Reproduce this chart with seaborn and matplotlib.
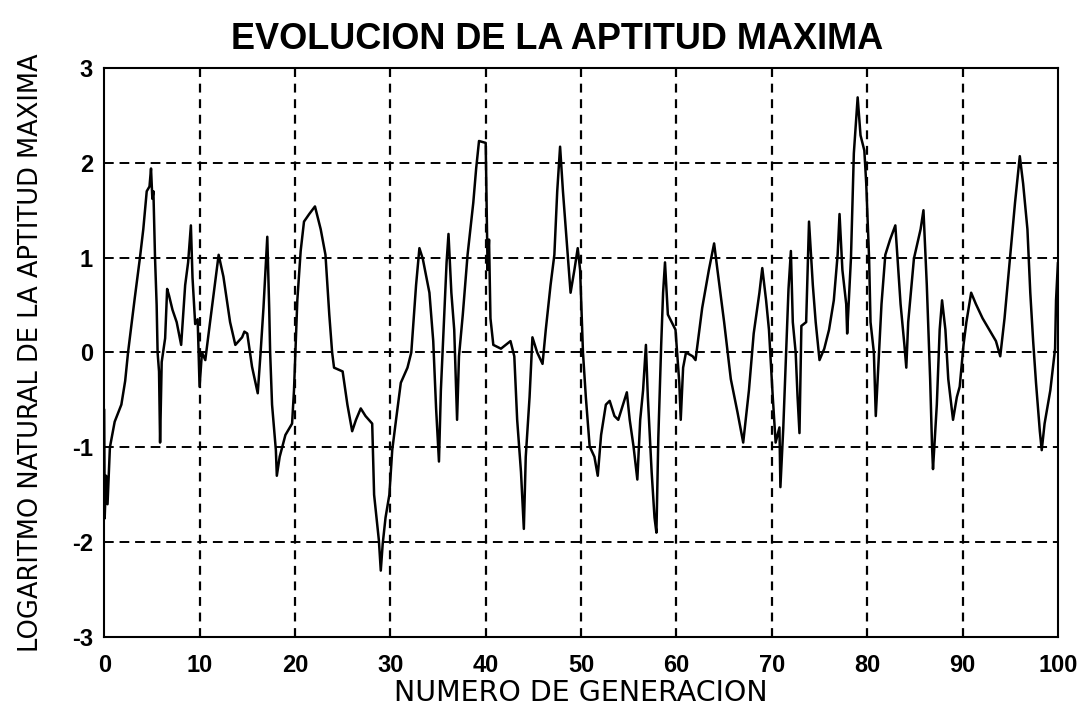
import pandas as pd
import matplotlib
matplotlib.use("Agg")
import matplotlib.pyplot as plt
import seaborn as sns

# valores (generacion, log natural de la aptitud maxima)
generacion = [
    0.0, 0.05, 0.2, 0.35, 0.6, 1.1, 1.8, 2.2, 2.5, 3.2, 3.75, 4.1, 4.46, 4.75, 4.91,
    5.05, 5.16, 5.33, 5.5, 5.6, 5.75, 5.86, 6.03, 6.39, 6.6, 6.8, 7.16, 7.6, 8.07, 8.49,
    8.8, 9.09, 9.26, 9.54, 9.8, 10.0, 10.25, 10.6, 11.1, 12.0, 12.5, 13.2, 13.75, 14.46,
    14.7, 15.0, 15.5, 16.1, 16.4, 16.7, 17.1, 17.3, 17.4, 17.6, 18.0, 18.1, 18.4, 19.0,
    19.7, 19.9, 20.25, 20.6, 20.95, 21.5, 22.1, 22.7, 23.2, 23.6, 23.9, 24.1, 25.0, 25.5,
    26.0, 26.4, 26.9, 27.4, 28.1, 28.3, 28.8, 29.0, 29.2, 29.5, 29.9, 30.2, 30.6, 31.1,
    31.8, 32.2, 32.7, 33.05, 33.4, 34.1, 34.5, 34.8, 35.1, 35.3, 35.7, 35.9, 36.1, 36.4,
    36.7, 37.0, 37.2, 37.6, 38.1, 38.7, 39.0, 39.3, 40.0, 40.2, 40.35, 40.5, 40.8, 41.6,
    42.1, 42.6, 43.0, 43.3, 43.7, 44.0, 44.2, 44.6, 44.9, 45.4, 45.96, 46.3, 46.8, 47.2,
    47.5, 47.8, 48.1, 48.6, 48.9, 49.3, 49.65, 49.9, 50.2, 50.5, 50.9, 51.4, 51.75, 52.1,
    52.6, 53.0, 53.5, 53.9, 54.4, 54.8, 55.1, 55.5, 55.9, 56.2, 56.5, 56.8, 57.0, 57.4,
    57.7, 57.9, 58.1, 58.4, 58.6, 58.8, 59.1, 59.5, 59.9, 60.3, 60.45, 60.7, 61.0, 61.7,
    62.0, 62.7, 63.4, 63.95, 64.3, 65.0, 65.7, 66.4, 67.0, 67.6, 68.1, 68.7, 69.0, 69.4,
    69.7, 70.1, 70.4, 70.8, 70.9, 71.2, 71.5, 71.75, 72.0, 72.2, 72.5, 72.7, 72.9, 73.1,
    73.6, 73.9, 74.3, 74.6, 75.0, 75.5, 76.0, 76.5, 76.9, 77.1, 77.4, 77.8, 77.9, 78.3,
    78.6, 79.0, 79.3, 79.7, 79.9, 80.2, 80.35, 80.7, 80.9, 81.2, 81.5, 81.9, 82.4, 82.95,
    83.5, 83.9, 84.1, 84.3, 84.9, 85.6, 85.9, 86.25, 86.6, 86.8, 86.9, 87.3, 87.6, 87.85,
    88.2, 88.5, 89.0, 89.4, 89.7, 90.1, 90.4, 90.9, 91.4, 92.1, 92.8, 93.5, 93.95, 94.4,
    95.0, 95.5, 95.7, 96.0, 96.35, 96.8, 97.1, 97.4, 97.7, 98.1, 98.3, 98.6, 99.2, 99.7,
    99.8, 100.0,
]
log_aptitud = [
    -0.6, -1.75, -1.3, -1.6, -1.0, -0.73, -0.55, -0.3, 0.0, 0.57, 1.0, 1.3, 1.7, 1.75, 1.94,
    1.62, 1.7, 1.0, 0.5, 0.0, -0.2, -0.95, -0.1, 0.15, 0.67, 0.6, 0.45, 0.32, 0.08, 0.71,
    0.95, 1.34, 0.79, 0.3, 0.35, -0.36, 0.0, -0.08, 0.32, 1.03, 0.8, 0.32, 0.08, 0.16,
    0.22, 0.2, -0.15, -0.43, 0.0, 0.47, 1.22, 0.47, 0.0, -0.55, -1.03, -1.3, -1.1, -0.87,
    -0.75, -0.4, 0.55, 1.07, 1.38, 1.46, 1.54, 1.3, 1.03, 0.4, 0.0, -0.16, -0.2, -0.55,
    -0.83, -0.71, -0.59, -0.67, -0.75, -1.5, -1.98, -2.3, -2.02, -1.74, -1.5, -1.03, -0.71, -0.32,
    -0.16, 0.0, 0.71, 1.1, 0.99, 0.63, 0.12, -0.59, -1.15, -0.4, 0.51, 0.95, 1.25, 0.63,
    0.24, -0.71, -0.04, 0.4, 1.03, 1.58, 1.94, 2.23, 2.21, 0.87, 1.19, 0.36, 0.08, 0.04,
    0.08, 0.12, -0.04, -0.71, -1.26, -1.86, -1.1, -0.47, 0.16, 0.0, -0.12, 0.24, 0.71, 1.03,
    1.7, 2.17, 1.7, 1.03, 0.63, 0.87, 1.1, 0.87, 0.0, -0.47, -0.99, -1.1, -1.3, -0.87,
    -0.55, -0.51, -0.67, -0.71, -0.55, -0.42, -0.71, -0.99, -1.34, -0.71, -0.4, 0.08, -0.47, -1.26,
    -1.74, -1.9, -0.9, 0.08, 0.63, 0.95, 0.4, 0.32, 0.24, -0.32, -0.71, -0.16, 0.0, -0.04,
    -0.08, 0.47, 0.87, 1.15, 0.87, 0.32, -0.28, -0.63, -0.95, -0.4, 0.2, 0.63, 0.89, 0.55,
    0.24, -0.47, -0.95, -0.79, -1.42, -0.8, 0.0, 0.67, 1.07, 0.32, 0.0, -0.47, -0.85, 0.28,
    0.32, 1.38, 0.71, 0.32, -0.08, 0.04, 0.24, 0.55, 1.03, 1.46, 0.87, 0.51, 0.2, 1.0,
    2.1, 2.69, 2.29, 2.13, 1.78, 0.99, 0.32, 0.0, -0.67, -0.08, 0.51, 1.03, 1.19, 1.34,
    0.51, 0.08, -0.16, 0.32, 0.99, 1.3, 1.5, 0.71, -0.28, -0.99, -1.23, -0.55, 0.24, 0.55,
    0.24, -0.28, -0.71, -0.47, -0.36, 0.08, 0.32, 0.63, 0.51, 0.36, 0.24, 0.12, -0.04, 0.36,
    1.03, 1.58, 1.78, 2.07, 1.78, 1.3, 0.63, 0.12, -0.32, -0.83, -1.03, -0.75, -0.4, 0.04,
    0.55, 0.95,
]
x_ticks = [0, 10, 20, 30, 40, 50, 60, 70, 80, 90, 100]
y_ticks = [-3, -2, -1, 0, 1, 2, 3]

datos = pd.DataFrame({"gen": generacion, "apt": log_aptitud})

sns.set_style("white")
plt.rcParams['font.family'] = ['Liberation Sans', 'DejaVu Sans']
plt.rcParams['text.color'] = 'black'
plt.rcParams['axes.labelcolor'] = 'black'
plt.rcParams['xtick.color'] = 'black'
plt.rcParams['ytick.color'] = 'black'

fig = plt.figure(figsize=(10.91, 7.08), dpi=100)
ax = fig.add_axes([0.0955, 0.1003, 0.8742, 0.8037])

sns.lineplot(data=datos, x="gen", y="apt", color="black", linewidth=1.8,
             sort=False, estimator=None, ax=ax)

ax.set_xlim(0, 100)
ax.set_ylim(-3, 3)
ax.set_xticks(x_ticks)
ax.set_yticks(y_ticks)
ax.set_xticklabels([str(t) for t in x_ticks], fontsize=17, fontweight="bold")
ax.set_yticklabels([str(t) for t in y_ticks], fontsize=17, fontweight="bold")
ax.tick_params(direction="inout", length=10, width=1.5, color="black")
ax.tick_params(axis="x", pad=7)
ax.tick_params(axis="y", pad=3)

# rejilla discontinua
for t in x_ticks[1:-1]:
    ax.axvline(t, color="black", linestyle=(0, (4, 3)), linewidth=1.6, zorder=0)
for t in y_ticks[1:-1]:
    ax.axhline(t, color="black", linestyle=(0, (5, 3)), linewidth=1.4, zorder=0)

for s in ax.spines.values():
    s.set_color("black")
    s.set_linewidth(1.5)

ax.set_xlabel("NUMERO DE GENERACION", fontsize=20.5, family="DejaVu Sans", labelpad=2)
ax.set_ylabel("LOGARITMO NATURAL DE LA APTITUD MAXIMA", fontsize=18.5,
              family="DejaVu Sans", labelpad=20)
ax.set_title("EVOLUCION DE LA APTITUD MAXIMA", fontsize=26, fontweight="bold",
             family=['Liberation Sans Narrow', 'Liberation Sans'], pad=14, x=0.475)

plt.savefig("out.png", dpi=100)
